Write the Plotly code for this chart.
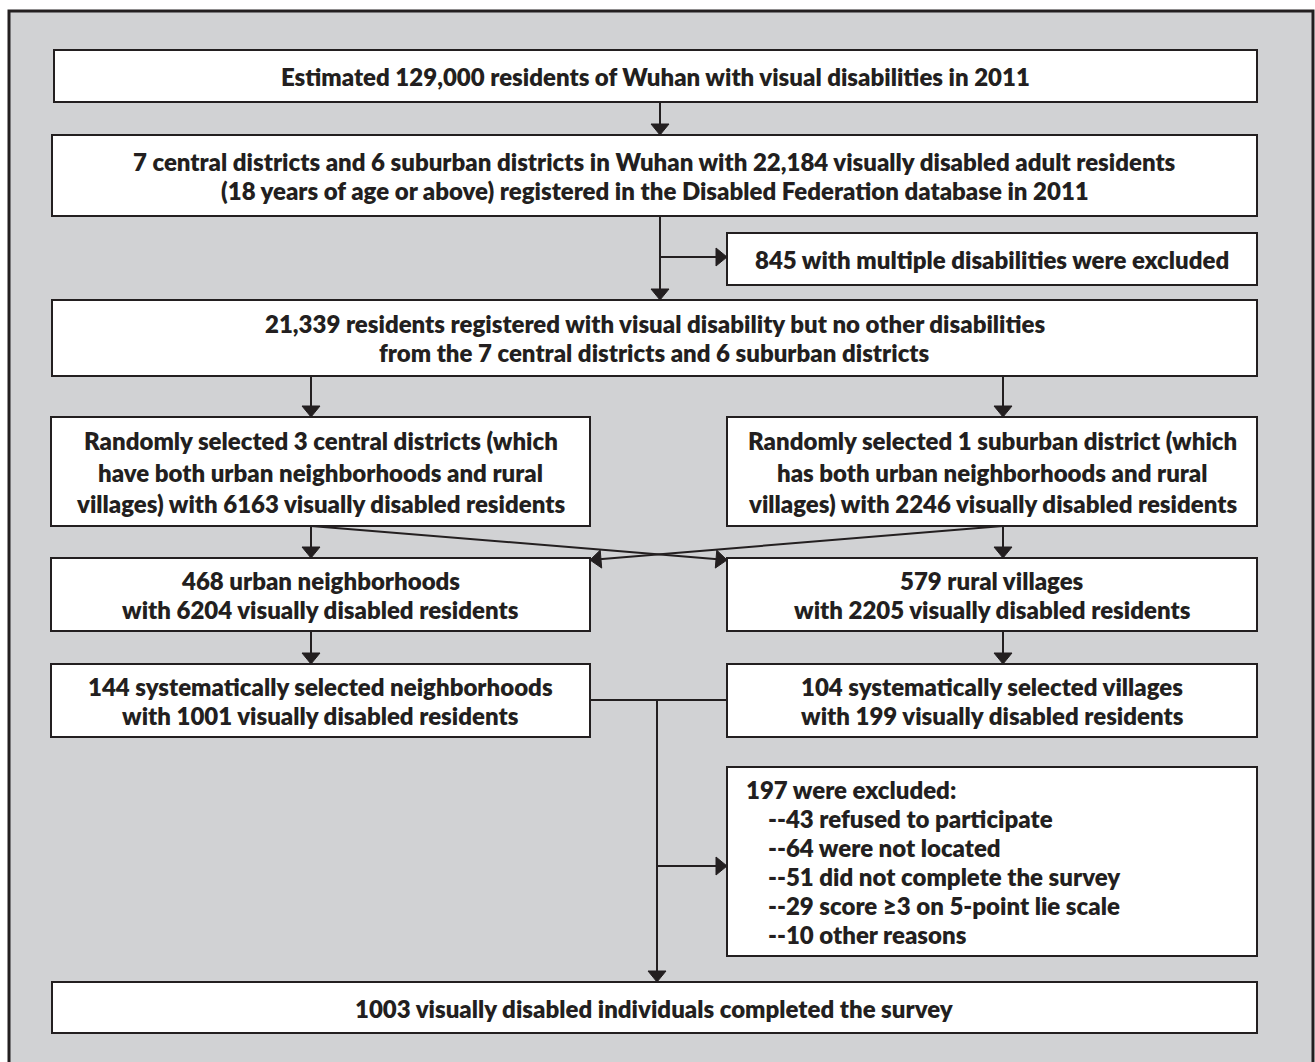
import plotly.graph_objects as go

# ---- content (text of the flowchart) ----
box_top_text = ["Estimated 129,000 residents of Wuhan with visual disabilities in 2011"]
box_districts_text = ["7 central districts and 6 suburban districts in Wuhan with 22,184 visually disabled adult residents",
                      "(18 years of age or above) registered in the Disabled Federation database in 2011"]
box_multi_excl_text = ["845 with multiple disabilities were excluded"]
box_registered_text = ["21,339 residents registered with visual disability but no other disabilities",
                       "from the 7 central districts and 6 suburban districts"]
box_central_text = ["Randomly selected 3 central districts (which",
                    "have both urban neighborhoods and rural",
                    "villages) with 6163 visually disabled residents"]
box_suburban_text = ["Randomly selected 1 suburban district (which",
                     "has both urban neighborhoods and rural",
                     "villages) with 2246 visually disabled residents"]
box_urban_text = ["468 urban neighborhoods", "with 6204 visually disabled residents"]
box_rural_text = ["579 rural villages", "with 2205 visually disabled residents"]
box_neigh_sel_text = ["144 systematically selected neighborhoods", "with 1001 visually disabled residents"]
box_vill_sel_text = ["104 systematically selected villages", "with 199 visually disabled residents"]
excl_header = "197 were excluded:"
excl_reasons = ["--43 refused to participate", "--64 were not located",
                "--51 did not complete the survey", "--29 score \u22653 on 5-point lie scale",
                "--10 other reasons"]
box_final_text = ["1003 visually disabled individuals completed the survey"]

# ---- layout geometry (pixels) ----
W, H = 1315, 1062
BG = "#D1D2D4"
INK = "#231F20"
FONT = dict(family="Lato", size=24, color=INK, weight=800)

LX0, LX1 = 51, 590      # left column
RX0, RX1 = 727, 1257    # right column
FX0, FX1 = 52, 1257     # full width

# (x0, y0, x1, y1, lines, line_y_centers)
boxes = [
    (54, 50, 1257, 102, box_top_text, [76]),
    (FX0, 135, FX1, 216, box_districts_text, [161, 190]),
    (RX0, 233, RX1, 285, box_multi_excl_text, [259]),
    (FX0, 300, FX1, 376, box_registered_text, [323.5, 352.5]),
    (LX0, 417, LX1, 526, box_central_text, [440, 472, 503]),
    (RX0, 417, RX1, 526, box_suburban_text, [440, 472, 503]),
    (LX0, 558, LX1, 631, box_urban_text, [580, 609]),
    (RX0, 558, RX1, 631, box_rural_text, [580, 609]),
    (LX0, 664, LX1, 737, box_neigh_sel_text, [686, 715]),
    (RX0, 664, RX1, 737, box_vill_sel_text, [686, 715]),
    (FX0, 982, FX1, 1033, box_final_text, [1008]),
]
EXCL = (RX0, 767, RX1, 956)
excl_ys = [789, 818, 847, 876, 905, 934]

shapes = []
annotations = []

# outer frame
shapes.append(dict(type="rect", x0=9, y0=11, x1=1313, y1=H + 20,
                   line=dict(color=INK, width=3), fillcolor=BG, layer="below"))

def rect(x0, y0, x1, y1):
    shapes.append(dict(type="rect", x0=x0, y0=y0, x1=x1, y1=y1,
                       line=dict(color=INK, width=2), fillcolor="white"))

def line(x0, y0, x1, y1):
    shapes.append(dict(type="line", x0=x0, y0=y0, x1=x1, y1=y1,
                       line=dict(color=INK, width=2)))

def head(tx, ty, fx, fy, L=11, hw=9):
    dx, dy = tx - fx, ty - fy
    n = (dx * dx + dy * dy) ** 0.5
    dx, dy = dx / n, dy / n
    bx, by = tx - L * dx, ty - L * dy
    px, py = -dy, dx
    p = f"M {tx},{ty} L {bx + hw*px},{by + hw*py} L {bx - hw*px},{by - hw*py} Z"
    shapes.append(dict(type="path", path=p, fillcolor=INK, line=dict(color=INK, width=1)))

def arrow(x0, y0, x1, y1):
    line(x0, y0, x1, y1)
    head(x1, y1, x0, y0)

def label(x, y, t, anchor):
    annotations.append(dict(x=x, y=y, text=t, showarrow=False, borderpad=0,
                            xanchor=anchor, yanchor="middle", font=FONT))

for (x0, y0, x1, y1, lines, ys) in boxes:
    rect(x0, y0, x1, y1)
    cx = (x0 + x1) / 2
    for t, yy in zip(lines, ys):
        label(cx, yy, t, "center")

# exclusion box
rect(*EXCL)
label(745, excl_ys[0], excl_header, "left")
for t, yy in zip(excl_reasons, excl_ys[1:]):
    label(767, yy, t, "left")

# connectors
MX = 660
arrow(MX, 102, MX, 135)
arrow(MX, 216, MX, 300)
arrow(MX, 257, RX0, 257)
LA, RA = 311, 1003
arrow(LA, 376, LA, 417)
arrow(RA, 376, RA, 417)
arrow(LA, 526, LA, 558)
arrow(RA, 526, RA, 558)
arrow(LA, 526, RX0, 560)
arrow(RA, 526, LX1, 560)
arrow(LA, 631, LA, 664)
arrow(RA, 631, RA, 664)
line(LX1, 700, RX0, 700)
VX = 657
arrow(VX, 700, VX, 982)
arrow(VX, 866, RX0, 866)

fig = go.Figure()
fig.update_layout(
    width=W, height=H, margin=dict(l=0, r=0, t=0, b=0),
    paper_bgcolor="white", plot_bgcolor="white",
    xaxis=dict(range=[0, W], visible=False, fixedrange=True),
    yaxis=dict(range=[H, 0], visible=False, fixedrange=True),
    shapes=shapes, annotations=annotations, showlegend=False,
)
fig.write_html("out.html", post_script="document.body.style.margin='0';",
               config={"displayModeBar": False})
